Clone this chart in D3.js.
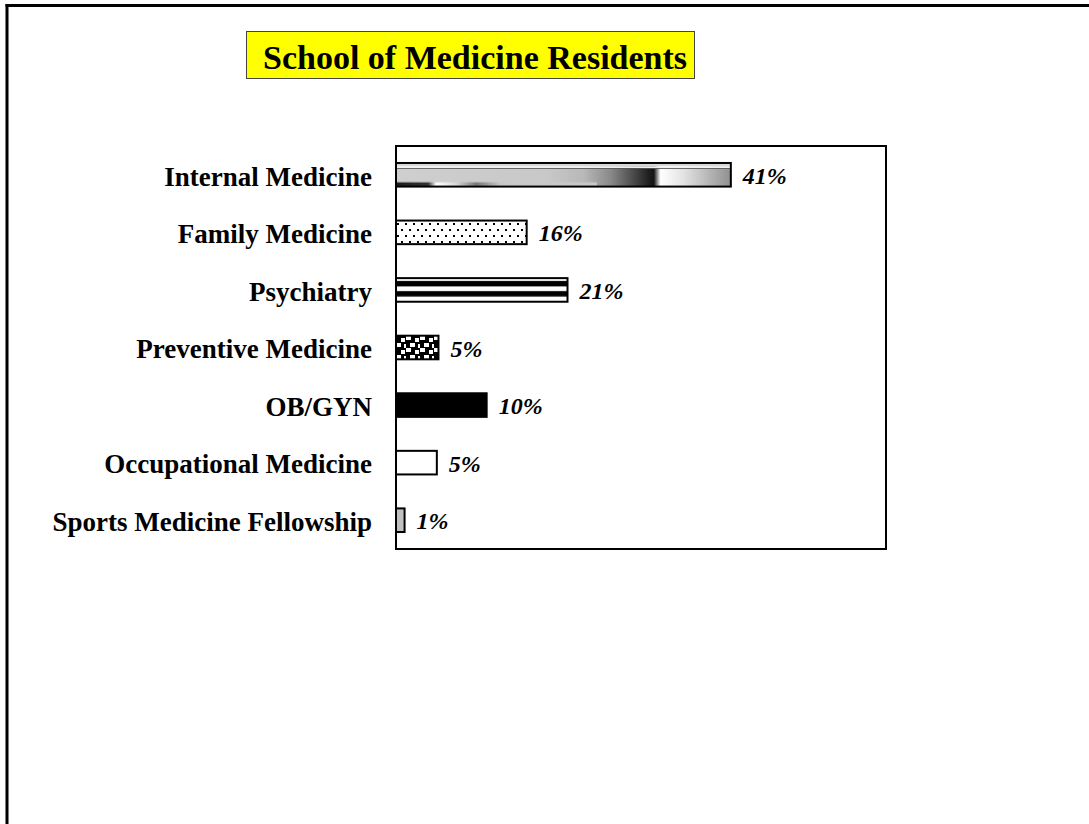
<!DOCTYPE html>
<html>
<head>
<meta charset="utf-8">
<script src="https://cdn.jsdelivr.net/npm/d3@7"></script>
<style>
  html, body { margin: 0; padding: 0; background: #fff; }
  svg { display: block; }
</style>
</head>
<body>
<script>
// ---- data ----
const categories = ["Internal Medicine", "Family Medicine", "Psychiatry", "Preventive Medicine", "OB/GYN", "Occupational Medicine", "Sports Medicine Fellowship"];
const values = [41, 16, 21, 5.2, 11.1, 5, 1.05];
const valueLabels = ["41%", "16%", "21%", "5%", "10%", "5%", "1%"];
const fills = ["url(#pIM)", "url(#pDots)", "url(#pStripes)", "url(#pChecks)", "#000000", "#ffffff", "#c0c0c0"];
const title = "School of Medicine Residents";

const W = 1089, H = 824;
const serif = "'Liberation Serif', 'Times New Roman', Times, serif";

const svg = d3.select("body").append("svg").attr("width", W).attr("height", H);
const defs = svg.append("defs");

// Internal Medicine bitmap-like fill
const gIM = defs.append("linearGradient").attr("id", "gIM").attr("x1", 0).attr("x2", 1).attr("y1", 0).attr("y2", 0);
[[0, "#cfcfcf"], [0.45, "#c8c8c8"], [0.56, "#b8b8b8"], [0.64, "#8a8a8a"], [0.72, "#404040"], [0.77, "#111"], [0.79, "#ffffff"], [0.86, "#e2e2e2"], [1, "#8f8f8f"]]
  .forEach(([o, c]) => gIM.append("stop").attr("offset", o).attr("stop-color", c));
const gIM2 = defs.append("linearGradient").attr("id", "gIM2").attr("x1", 0).attr("x2", 1).attr("y1", 0).attr("y2", 0);
[[0, "#1a1a1a"], [0.16, "#333"], [0.2, "#ffffff"], [0.3, "#d8d8d8"], [0.4, "#777"], [0.45, "#999"], [0.52, "#c8c8c8"], [1, "#c8c8c8"]]
  .forEach(([o, c]) => gIM2.append("stop").attr("offset", o).attr("stop-color", c));
const pIM = defs.append("pattern").attr("id", "pIM").attr("patternContentUnits", "objectBoundingBox")
  .attr("width", 1).attr("height", 1);
pIM.append("rect").attr("x", 0).attr("y", 0).attr("width", 1).attr("height", 1).attr("fill", "url(#gIM)");
pIM.append("rect").attr("x", 0).attr("y", 0).attr("width", 1).attr("height", 0.14).attr("fill", "#d6d6d6");
pIM.append("rect").attr("x", 0).attr("y", 0.14).attr("width", 1).attr("height", 0.07).attr("fill", "#ffffff");
pIM.append("rect").attr("x", 0).attr("y", 0.21).attr("width", 1).attr("height", 0.04).attr("fill", "#555");
pIM.append("rect").attr("x", 0).attr("y", 0.82).attr("width", 0.6).attr("height", 0.18).attr("fill", "url(#gIM2)");

// dotted fill
const pDots = defs.append("pattern").attr("id", "pDots").attr("patternUnits", "userSpaceOnUse").attr("width", 8).attr("height", 12);
pDots.append("rect").attr("width", 8).attr("height", 12).attr("fill", "#fff");
pDots.append("rect").attr("x", 1).attr("y", 1).attr("width", 2).attr("height", 2).attr("fill", "#000");
pDots.append("rect").attr("x", 5).attr("y", 7).attr("width", 2).attr("height", 2).attr("fill", "#000");

// horizontal stripes
const pStr = defs.append("pattern").attr("id", "pStripes").attr("patternContentUnits", "objectBoundingBox").attr("width", 1).attr("height", 1);
pStr.append("rect").attr("width", 1).attr("height", 1).attr("fill", "#fff");
pStr.append("rect").attr("x", 0).attr("y", 0.12).attr("width", 1).attr("height", 0.23).attr("fill", "#000");
pStr.append("rect").attr("x", 0).attr("y", 0.55).attr("width", 1).attr("height", 0.23).attr("fill", "#000");

// checks
const pCh = defs.append("pattern").attr("id", "pChecks").attr("patternUnits", "userSpaceOnUse").attr("width", 14).attr("height", 12);
pCh.append("rect").attr("width", 14).attr("height", 12).attr("fill", "#000");
pCh.append("rect").attr("x", 0).attr("y", 0).attr("width", 5).attr("height", 4).attr("fill", "#fff");
pCh.append("rect").attr("x", 9).attr("y", 2).attr("width", 4).attr("height", 4).attr("fill", "#fff");
pCh.append("rect").attr("x", 4).attr("y", 7).attr("width", 5).attr("height", 4).attr("fill", "#fff");
pCh.append("rect").attr("x", 12).attr("y", 8).attr("width", 2).attr("height", 4).attr("fill", "#fff");

// outer frame (top + left)
svg.append("line").attr("x1", 5.5).attr("x2", W).attr("y1", 5.5).attr("y2", 5.5).attr("stroke", "#000").attr("stroke-width", 3);
svg.append("line").attr("x1", 7).attr("x2", 7).attr("y1", 4).attr("y2", H).attr("stroke", "#000").attr("stroke-width", 3);

// title
svg.append("rect").attr("x", 246.5).attr("y", 31.5).attr("width", 448).attr("height", 47)
  .attr("fill", "#ffff00").attr("stroke", "#444").attr("stroke-width", 1);
svg.append("text").attr("x", 263).attr("y", 69).attr("font-family", serif).attr("font-weight", "bold")
  .attr("font-size", 34).attr("fill", "#000").text(title);

// plot
const plot = { left: 396, right: 886, top: 146, bottom: 549 };
const x = d3.scaleLinear().domain([0, 60]).range([plot.left, plot.right]);
const y = d3.scaleBand().domain(categories).range([plot.top, plot.bottom]).paddingInner(0.59).paddingOuter(0.295);

svg.append("rect").attr("x", plot.left).attr("y", plot.top).attr("width", plot.right - plot.left).attr("height", plot.bottom - plot.top)
  .attr("fill", "#fff").attr("stroke", "#000").attr("stroke-width", 2);

svg.append("g").selectAll("rect").data(categories).join("rect")
  .attr("x", x(0))
  .attr("y", d => y(d))
  .attr("width", (d, i) => x(values[i]) - x(0))
  .attr("height", y.bandwidth())
  .attr("fill", (d, i) => fills[i])
  .attr("stroke", "#000").attr("stroke-width", 2);

const axis = d3.axisLeft(y).tickSize(0).tickPadding(24);
const ax = svg.append("g").attr("transform", `translate(${plot.left},0)`).call(axis);
ax.select(".domain").remove();
ax.selectAll("text").attr("dy", "0.4em").attr("font-family", serif).attr("font-weight", "bold").attr("font-size", 27).attr("fill", "#000");

svg.append("g").selectAll("text").data(categories).join("text")
  .attr("x", (d, i) => x(values[i]) + 12)
  .attr("y", d => y(d) + y.bandwidth() / 2)
  .attr("dy", "0.38em")
  .attr("font-family", serif).attr("font-weight", "bold").attr("font-style", "italic")
  .attr("font-size", 24).attr("fill", "#000")
  .text((d, i) => valueLabels[i]);
</script>
</body>
</html>
